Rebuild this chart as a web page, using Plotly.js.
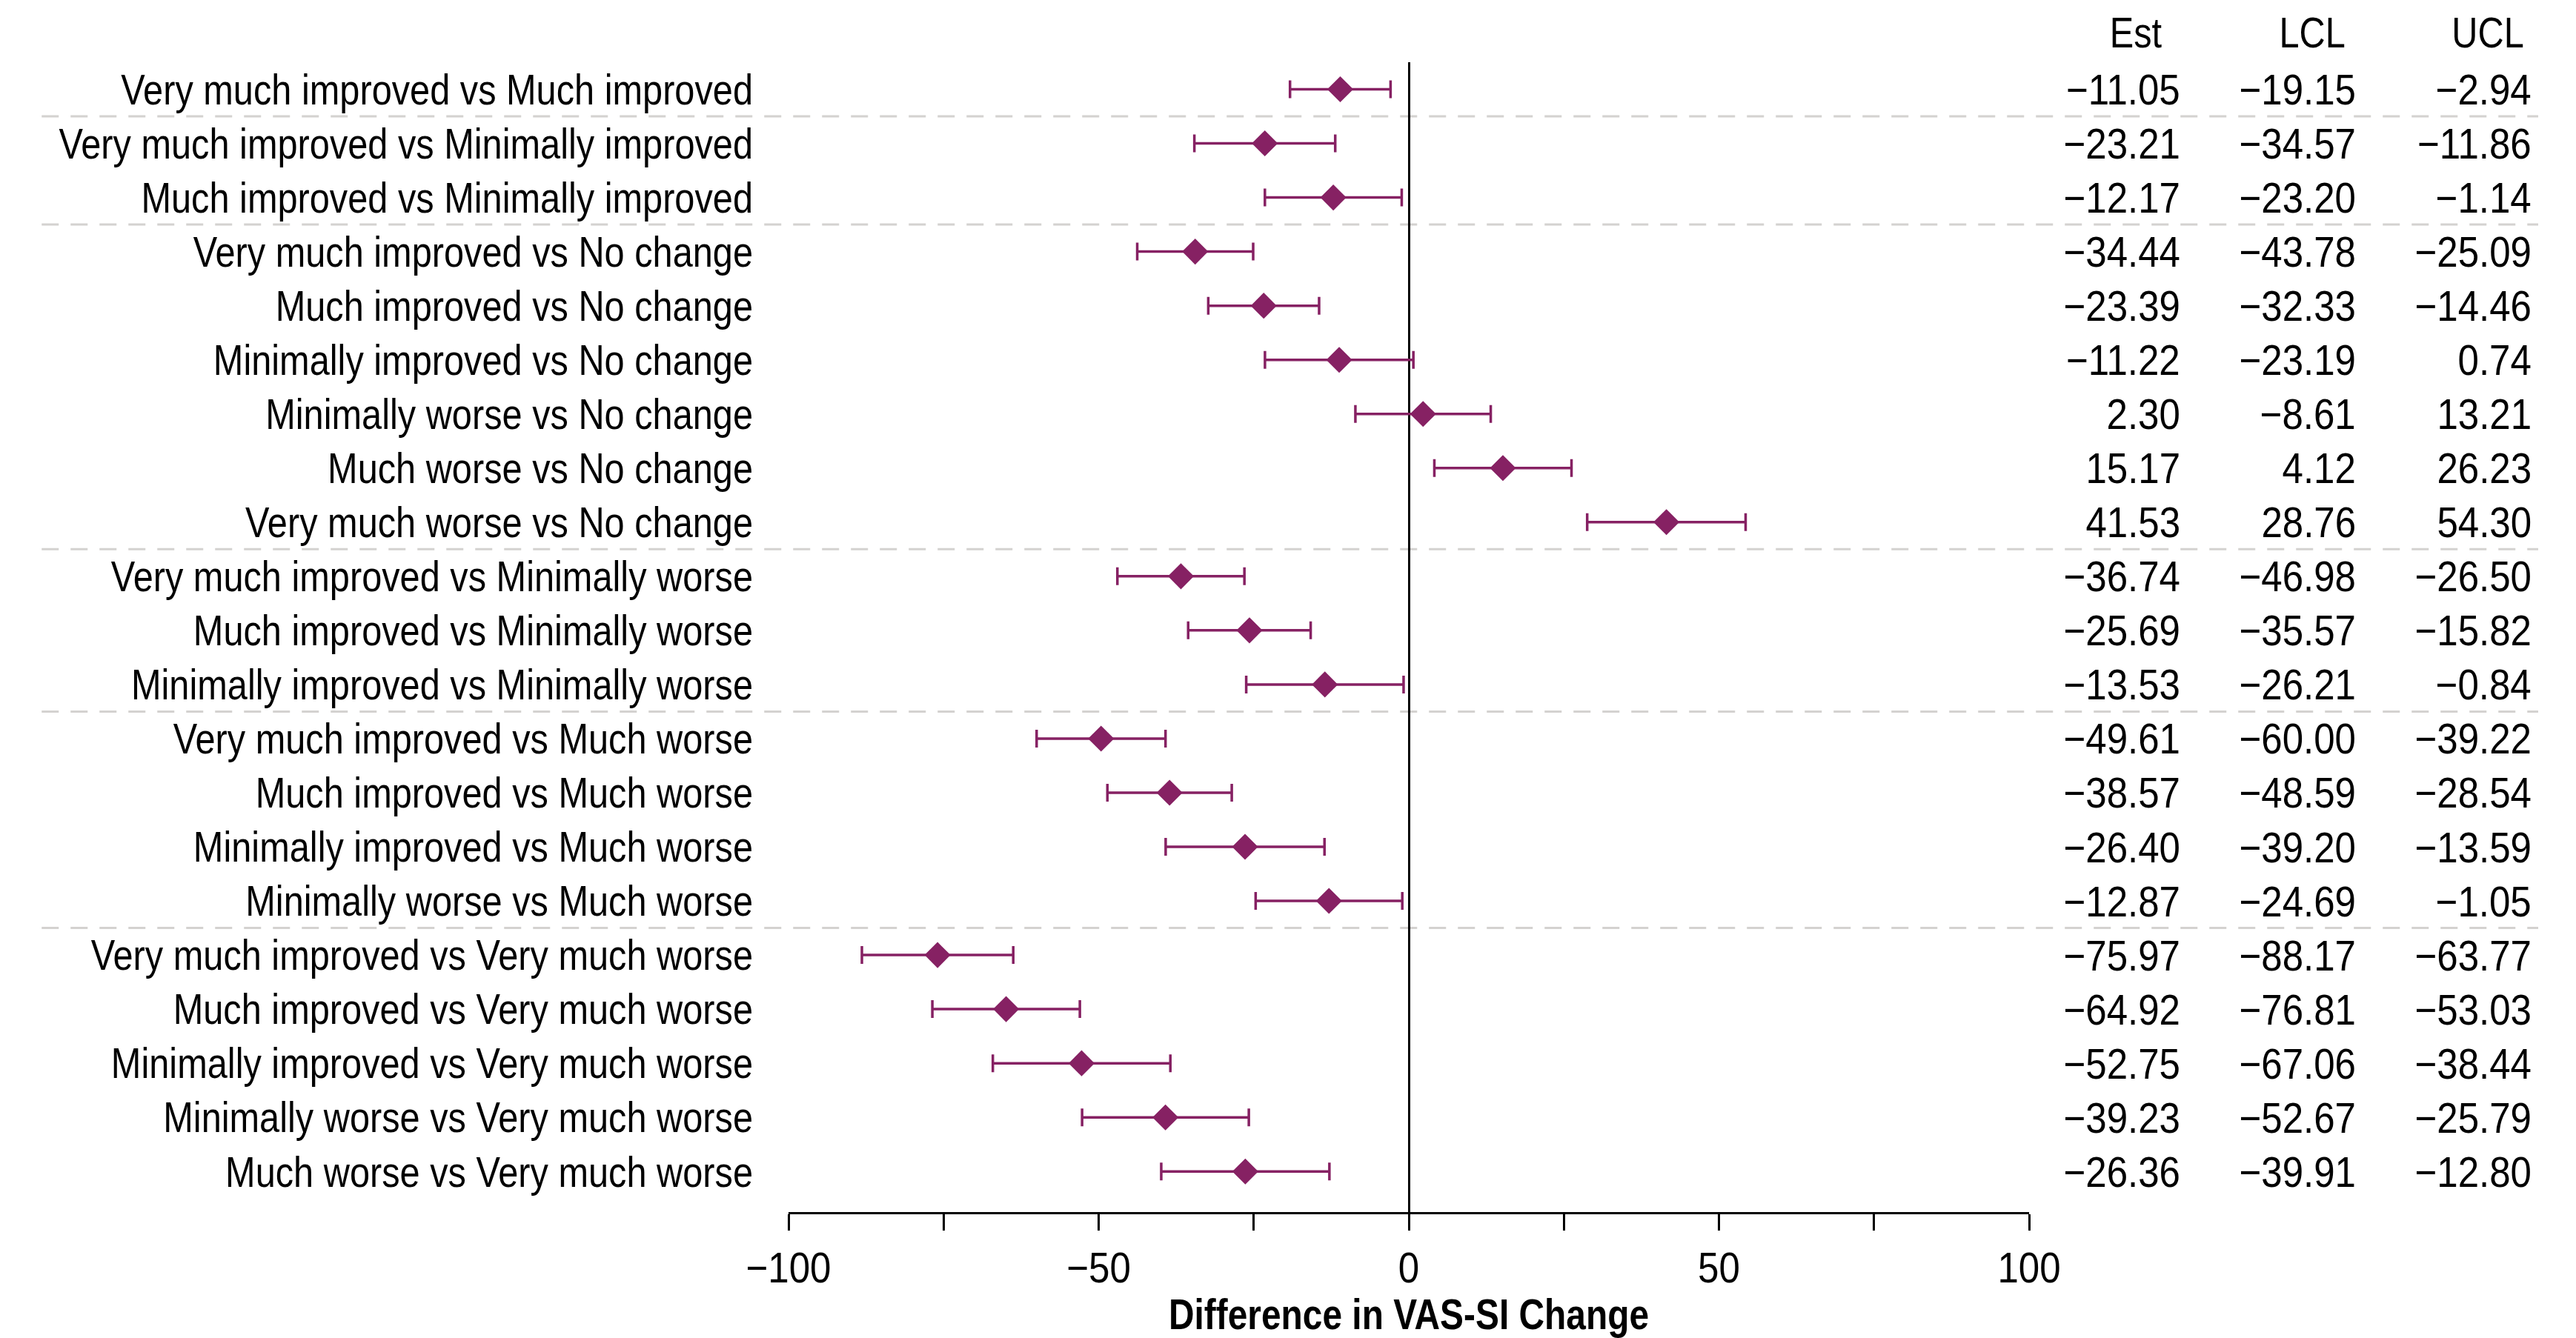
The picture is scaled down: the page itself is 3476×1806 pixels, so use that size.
<!DOCTYPE html>
<html>
<head>
<meta charset="utf-8">
<script src="https://cdn.plot.ly/plotly-3.0.1.min.js"></script>
<style>
  html, body { margin: 0; padding: 0; background: #ffffff; }
  #chart { width: 3476px; height: 1806px; }
</style>
</head>
<body>
<div id="chart"></div>
<script>
// ---- data ----
const comparisons = [
  "Very much improved vs Much improved",
  "Very much improved vs Minimally improved",
  "Much improved vs Minimally improved",
  "Very much improved vs No change",
  "Much improved vs No change",
  "Minimally improved vs No change",
  "Minimally worse vs No change",
  "Much worse vs No change",
  "Very much worse vs No change",
  "Very much improved vs Minimally worse",
  "Much improved vs Minimally worse",
  "Minimally improved vs Minimally worse",
  "Very much improved vs Much worse",
  "Much improved vs Much worse",
  "Minimally improved vs Much worse",
  "Minimally worse vs Much worse",
  "Very much improved vs Very much worse",
  "Much improved vs Very much worse",
  "Minimally improved vs Very much worse",
  "Minimally worse vs Very much worse",
  "Much worse vs Very much worse"
];
const est = [-11.05, -23.21, -12.17, -34.44, -23.39, -11.22, 2.30, 15.17, 41.53,
             -36.74, -25.69, -13.53, -49.61, -38.57, -26.40, -12.87,
             -75.97, -64.92, -52.75, -39.23, -26.36];
const lcl = [-19.15, -34.57, -23.20, -43.78, -32.33, -23.19, -8.61, 4.12, 28.76,
             -46.98, -35.57, -26.21, -60.00, -48.59, -39.20, -24.69,
             -88.17, -76.81, -67.06, -52.67, -39.91];
const ucl = [-2.94, -11.86, -1.14, -25.09, -14.46, 0.74, 13.21, 26.23, 54.30,
             -26.50, -15.82, -0.84, -39.22, -28.54, -13.59, -1.05,
             -63.77, -53.03, -38.44, -25.79, -12.80];
const columnHeaders = ["Est", "LCL", "UCL"];
const xTickVals = [-100, -75, -50, -25, 0, 25, 50, 75, 100];
const xTickText = ["\u2212100", "", "\u221250", "", "0", "", "50", "", "100"];
const groupBreaksAfter = [0, 2, 8, 11, 15]; // separator after these row indices
const xTitle = "Difference in VAS-SI Change";

// ---- style ----
const FONT = "Liberation Sans, Arial, sans-serif";
const FS = 58;
const NARROW_TEXT = 0.84;   // horizontal condensing of words (reference uses a condensed face)
const NARROW_NUM = 0.88;    // digits of the condensed face are relatively wider
const MARK = "#862163";
const fmt = v => v.toFixed(2).replace("-", "\u2212");

const trace = {
  type: "scatter",
  mode: "markers",
  x: est,
  y: comparisons,
  marker: { symbol: "diamond", size: 27, color: MARK },
  error_x: {
    type: "data",
    symmetric: false,
    array: ucl.map((u, i) => u - est[i]),
    arrayminus: lcl.map((l, i) => est[i] - l),
    color: MARK,
    thickness: 3.5,
    width: 12
  },
  hoverinfo: "skip",
  cliponaxis: false
};

const colX = [1.1231, 1.2647, 1.4062];
const headerX = [1.0860, 1.2282, 1.3698];
const annotations = [];
[est, lcl, ucl].forEach((arr, c) => {
  arr.forEach((v, i) => {
    annotations.push({
      xref: "paper", yref: "y", x: colX[c], y: comparisons[i],
      text: fmt(v), showarrow: false, xanchor: "right", yanchor: "middle", align: "right",
      font: { family: FONT, size: FS, color: "#000" }
    });
  });
});
columnHeaders.forEach((h, c) => {
  annotations.push({
    xref: "paper", yref: "paper", x: headerX[c], y: 1.0258,
    text: h, showarrow: false, xanchor: "center", yanchor: "middle", align: "center",
    font: { family: FONT, size: FS, color: "#000" }
  });
});

const shapes = groupBreaksAfter.map(i => ({
  type: "line", xref: "paper", yref: "y",
  x0: -0.602, x1: 1.4104, y0: i + 0.5, y1: i + 0.5,
  line: { color: "#d4d2d0", width: 3, dash: "23px,16px" },
  layer: "below"
}));

const layout = {
  width: 3476, height: 1806,
  paper_bgcolor: "#ffffff", plot_bgcolor: "#ffffff",
  margin: { l: 1064, r: 738, t: 84, b: 170 },
  showlegend: false,
  font: { family: FONT, size: FS, color: "#000" },
  xaxis: {
    range: [-100, 100],
    tickvals: xTickVals, ticktext: xTickText,
    ticks: "outside", ticklen: 22, tickwidth: 3, tickcolor: "#000",
    showline: true, linecolor: "#000", linewidth: 3,
    showgrid: false,
    zeroline: true, zerolinecolor: "#000", zerolinewidth: 3,
    tickfont: { family: FONT, size: FS, color: "#000" },
    title: { text: "<b>" + xTitle + "</b>", font: { family: FONT, size: 57, color: "#000" }, standoff: 20 },
    fixedrange: true
  },
  yaxis: {
    type: "category",
    range: [20.75, -0.5],
    showgrid: false, zeroline: false, showline: false,
    ticks: "",
    ticklabelstandoff: 47,
    tickfont: { family: FONT, size: FS, color: "#000" },
    fixedrange: true
  },
  shapes: shapes,
  annotations: annotations
};

Plotly.newPlot("chart", [trace], layout, { staticPlot: true, displayModeBar: false }).then(() => {
  // condense every text horizontally around its own anchor point
  document.querySelectorAll("#chart svg text").forEach(t => {
    const x = parseFloat(t.getAttribute("x")) || 0;
    const k = /^[\u2212\-0-9.\s]+$/.test(t.textContent) ? NARROW_NUM : NARROW_TEXT;
    const tr = t.getAttribute("transform") || "";
    t.setAttribute("transform", tr + " translate(" + x + ",0) scale(" + k + ",1) translate(" + (-x) + ",0)");
  });
});
</script>
</body>
</html>
